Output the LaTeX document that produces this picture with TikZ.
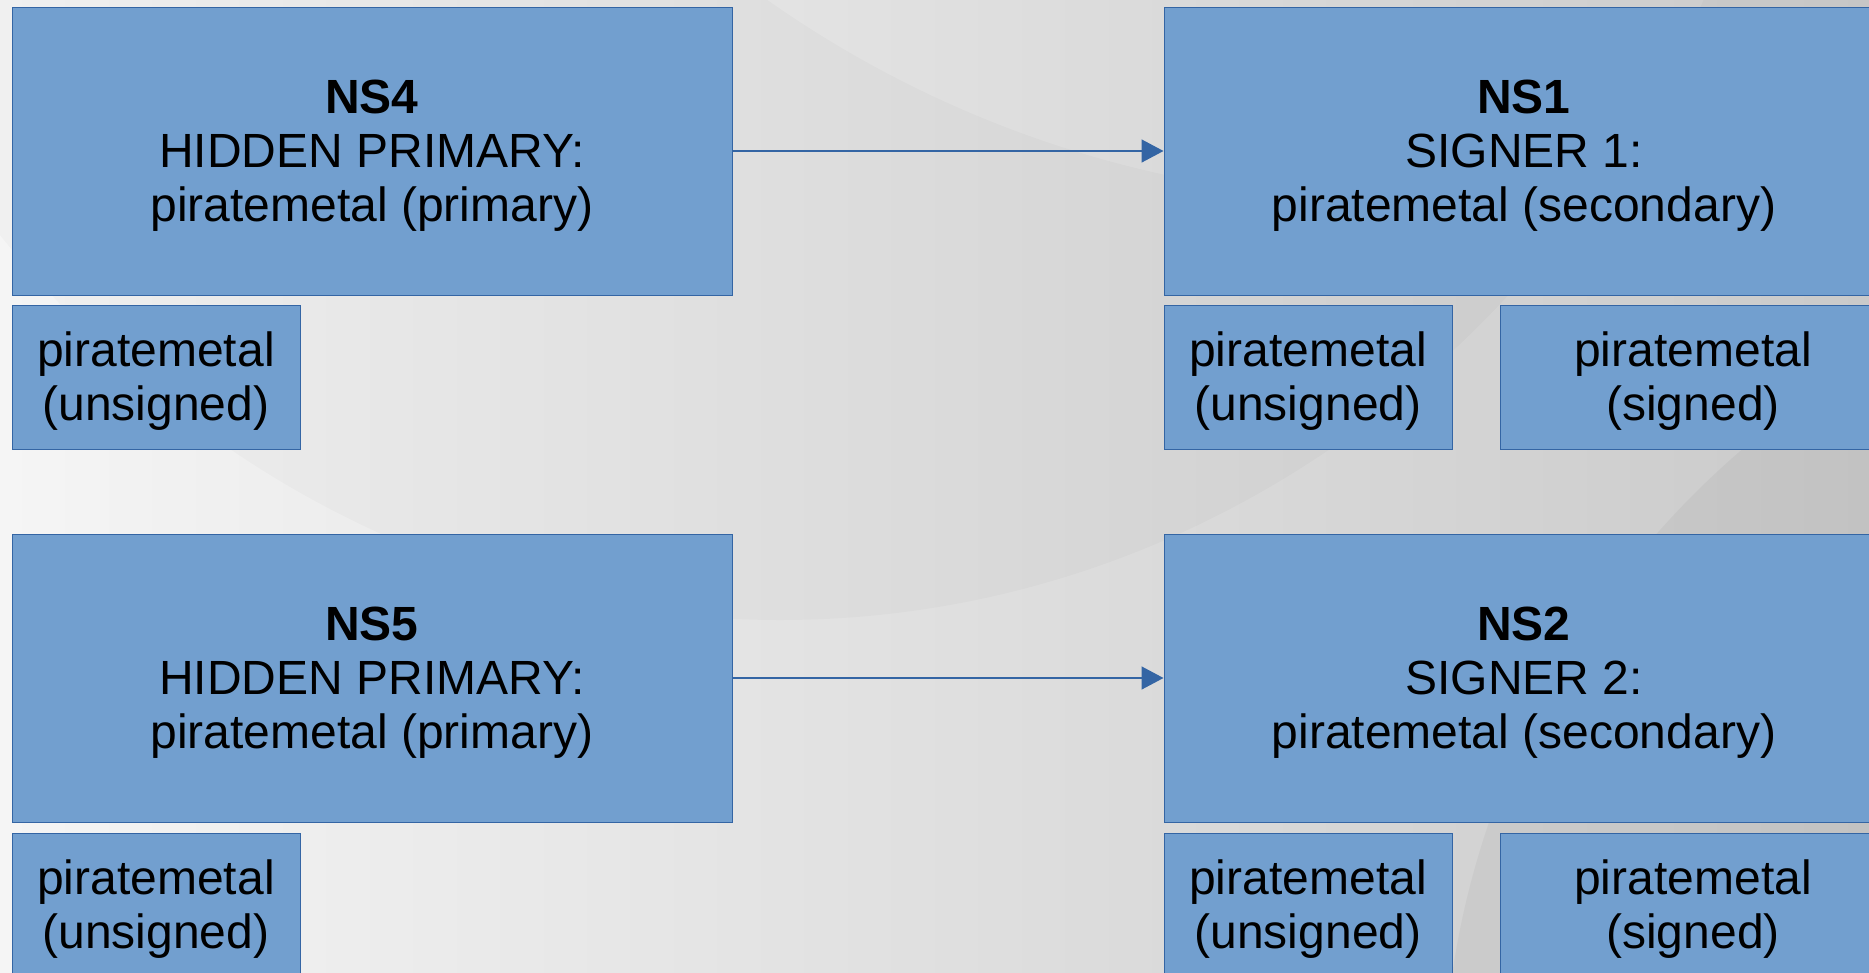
\documentclass[tikz,border=0pt]{standalone}
\usepackage{fontspec}
\setmainfont{Liberation Sans}
\usetikzlibrary{arrows.meta}
\definecolor{boxfill}{HTML}{729FCF}
\definecolor{boxline}{HTML}{3465A4}
\definecolor{bgleft}{HTML}{F5F5F5}
\definecolor{bgright}{HTML}{CACACA}
% text lines, set a little lower than the middle of the box
\newcommand{\lbl}[1]{\raisebox{-6pt}[\height][\depth]{\begin{tabular}{@{}c@{}}#1\end{tabular}}}

\begin{document}
\begin{tikzpicture}[x=1pt,y=-1pt]
\tikzset{server/.style = {shape=rectangle,draw=boxline,fill=boxfill,line width=1pt,
    minimum width=720pt,minimum height=288pt,inner sep=0pt,
    font=\fontsize{48}{54}\selectfont}}
\tikzset{zone/.style = {server,minimum height=144pt}}
\tikzset{link/.style = {draw=boxline,line width=1.5pt,-{Triangle[length=22pt,width=23pt]}}}

% background
\useasboundingbox (0,0) rectangle (1869,972);
\clip (0,0) rectangle (1869,972);
\shade[left color=bgleft,right color=bgright] (0,0) rectangle (1869,972);
\fill[black,opacity=0.018,even odd rule] (780,-476) ellipse [x radius=1025pt,y radius=1096pt]
    (1400,-900) circle [radius=1100pt];
\fill[black,opacity=0.035] (2300,1100) circle [radius=857pt];

% hidden primaries
\node[server] (ns4) at (372,151) {\lbl{\textbf{NS4}\\HIDDEN PRIMARY:\\piratemetal (primary)}};
\node[zone,minimum width=288pt] (ns4u) at (156,377) {\lbl{piratemetal\\(unsigned)}};
\node[server] (ns5) at (372,678) {\lbl{\textbf{NS5}\\HIDDEN PRIMARY:\\piratemetal (primary)}};
\node[zone,minimum width=288pt] (ns5u) at (156,905) {\lbl{piratemetal\\(unsigned)}};

% signers
\node[server] (ns1) at (1524,151) {\lbl{\textbf{NS1}\\SIGNER 1:\\piratemetal (secondary)}};
\node[zone,minimum width=288pt] (ns1u) at (1308,377) {\lbl{piratemetal\\(unsigned)}};
\node[zone,minimum width=386pt] (ns1s) at (1693,377) {\lbl{piratemetal\\(signed)}};
\node[server] (ns2) at (1524,678) {\lbl{\textbf{NS2}\\SIGNER 2:\\piratemetal (secondary)}};
\node[zone,minimum width=288pt] (ns2u) at (1308,905) {\lbl{piratemetal\\(unsigned)}};
\node[zone,minimum width=386pt] (ns2s) at (1693,905) {\lbl{piratemetal\\(signed)}};

\draw[link] (ns4) -- (ns1);
\draw[link] (ns5) -- (ns2);

\end{tikzpicture}
\end{document}
